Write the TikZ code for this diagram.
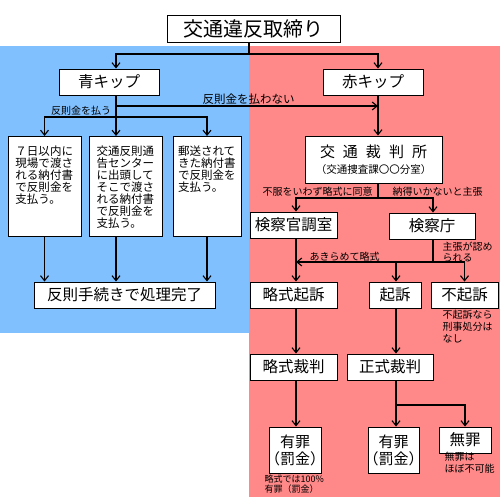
\documentclass[tikz,border=0pt]{standalone}
\usepackage{fontspec}
\setmainfont{Noto Sans CJK JP}
\newfontfamily\haltfont[RawFeature=+halt]{Noto Sans CJK JP}
\usetikzlibrary{arrows.meta}
\definecolor{bluezone}{RGB}{128,192,255}
\definecolor{redzone}{RGB}{255,136,136}

\begin{document}
\begin{tikzpicture}[x=1pt, y=-1pt, line width=1.1pt,
  box/.style={draw, fill=white, line width=0.9pt, inner sep=0pt, align=center,
    font=\fontsize{15.5}{17}\selectfont},
  note/.style={draw, fill=white, line width=0.9pt, inner xsep=0pt, inner ysep=9pt,
    anchor=north, font=\fontsize{11.5}{12}\selectfont},
  lbl/.style={inner sep=0pt, align=left, font=\fontsize{10}{11.5}\selectfont},
  arr/.style={-{Straight Barb[length=5pt,width=8pt]}}]
  \useasboundingbox (0,0) rectangle (500,500);
  \fill[bluezone] (0,46) rectangle (249,333);
  \fill[redzone] (249,46) rectangle (500,497);

  \coordinate (J0) at (249,54);
  \coordinate (J1) at (116,106);
  \coordinate (J2) at (116,117);
  \coordinate (J3) at (378,198);
  \coordinate (J4) at (433,262);
  \coordinate (J5) at (396,405);
  \coordinate (J6) at (296,262);

  % boxes
  \node[box, minimum width=173pt, minimum height=27pt, font=\fontsize{20}{22}\selectfont]
    (title) at (253.5,28.5) {交通違反取締り};
  \node[box, minimum width=100pt, minimum height=26pt] (ao)  at (109,82) {青キップ};
  \node[box, minimum width=100pt, minimum height=26pt] (aka) at (373,82) {赤キップ};

  \node[note, minimum width=73pt] (pay1) at (44.5,136)
    {\parbox[t][82pt][t]{58pt}{７日以内に\\現場で渡さ\\れる納付書\\で反則金を\\支払う。}};
  \node[note, minimum width=73pt] (pay2) at (125.5,136)
    {\parbox[t][82pt][t]{58pt}{交通反則通\\告センター\\に出頭して\\そこで渡さ\\れる納付書\\で反則金を\\支払う。}};
  \node[note, minimum width=68pt] (pay3) at (207,136)
    {\parbox[t][82pt][t]{58pt}{郵送されて\\きた納付書\\で反則金を\\支払う。}};
  \node[box, minimum width=181pt, minimum height=26pt] (done) at (124.5,295) {反則手続きで処理完了};

  \node[box, minimum width=137pt, minimum height=47pt, font=\fontsize{15}{16}\selectfont]
    (court) at (373.5,159.5)
    {交\hspace{8pt}通\hspace{8pt}裁\hspace{8pt}判\hspace{8pt}所\\
     {\fontsize{10.5}{15}\selectfont （交通捜査課〇〇分室）}};
  \node[box, minimum width=87pt, minimum height=26pt] (shitsu) at (293.5,225) {検察官調室};
  \node[box, minimum width=86pt, minimum height=26pt] (kencho) at (432,226) {検察庁};
  \node[box, minimum width=87pt, minimum height=26pt] (ryakki) at (293.5,295) {略式起訴};
  \node[box, minimum width=52pt, minimum height=26pt] (kiso)   at (395,295) {起訴};
  \node[box, minimum width=67pt, minimum height=26pt] (fukiso) at (464.5,295) {不起訴};
  \node[box, minimum width=87pt, minimum height=26pt] (ryakusai) at (293.5,367) {略式裁判};
  \node[box, minimum width=86pt, minimum height=26pt] (seisai)   at (390,367) {正式裁判};
  \node[box, minimum width=52pt, minimum height=46pt, font=\haltfont\fontsize{15}{17}\selectfont]
    (yuzai1) at (295,450) {有罪\\（罰金）};
  \node[box, minimum width=51pt, minimum height=46pt, font=\haltfont\fontsize{15}{17}\selectfont]
    (yuzai2) at (393.5,450) {有罪\\（罰金）};
  \node[box, minimum width=52pt, minimum height=26pt] (muzai) at (465,440) {無罪};

  % connectors
  \draw (title.south -| J0) -- (J0);
  \draw[arr] (J0) -| (ao.north -| J2);
  \draw[arr] (J0) -| (aka.north -| J3);
  \draw (ao.south -| J1) -- (J2);
  \draw[arr] (J1) -- (J1 -| J3);
  \draw[arr] (J2) -- (pay2.north -| J2);
  \draw[arr] (J2) -| (pay1.north);
  \draw[arr] (J2) -| (pay3.north);
  \draw[arr] (pay1.south) -- (done.north -| pay1.south);
  \draw[arr] (pay2.south -| J2) -- (done.north -| J2);
  \draw[arr] (pay3.south) -- (done.north -| pay3.south);

  \draw[arr] (aka.south -| J3) -- (court.north -| J3);
  \draw (court.south -| J3) -- (J3);
  \draw[arr] (J3) -| (shitsu.north -| J6);
  \draw[arr] (J3) -| (kencho.north -| J4);
  \draw (kencho.south -| J4) -- (J4);
  \draw[arr] (J4) -- (J6);
  \draw[arr] (J4) -| (kiso.north -| J5);
  \draw[arr] (J4) -| (fukiso.north);
  \draw[arr] (shitsu.south -| J6) -- (ryakki.north -| J6);
  \draw[arr] (ryakki.south -| J6) -- (ryakusai.north -| J6);
  \draw[arr] (ryakusai.south -| J6) -- (yuzai1.north -| J6);
  \draw[arr] (kiso.south -| J5) -- (seisai.north -| J5);
  \draw (seisai.south -| J5) -- (J5);
  \draw[arr] (J5) -- (yuzai2.north -| J5);
  \draw[arr] (J5) -| (muzai.north);

  % labels
  \node[lbl, font=\fontsize{11.5}{13}\selectfont, anchor=west] (nopay) at (202,99) {反則金を払わない};
  \node[lbl] (pay)    at (81,111)    {反則金を払う};
  \node[lbl] (agree)  at (317.5,192) {不服をいわず略式に同意};
  \node[lbl] (claim)  at (437.5,192) {納得いかないと主張};
  \node[lbl] (giveup) at (344.5,257) {あきらめて略式};
  \node[lbl, anchor=north west] (accept) at (442,241) {主張が認め\\られる};
  \node[lbl, anchor=north west, font=\fontsize{10}{12}\selectfont] (nopunish) at (442,310)
    {不起訴なら\\刑事処分は\\なし};
  \node[lbl, anchor=north west, font=\fontsize{9}{10.5}\selectfont] (sure) at (264,474)
    {略式では100\%\\有罪（罰金）};
  \node[lbl, anchor=north west] (rare) at (444,452) {無罪は\\ほぼ不可能};
\end{tikzpicture}
\end{document}
